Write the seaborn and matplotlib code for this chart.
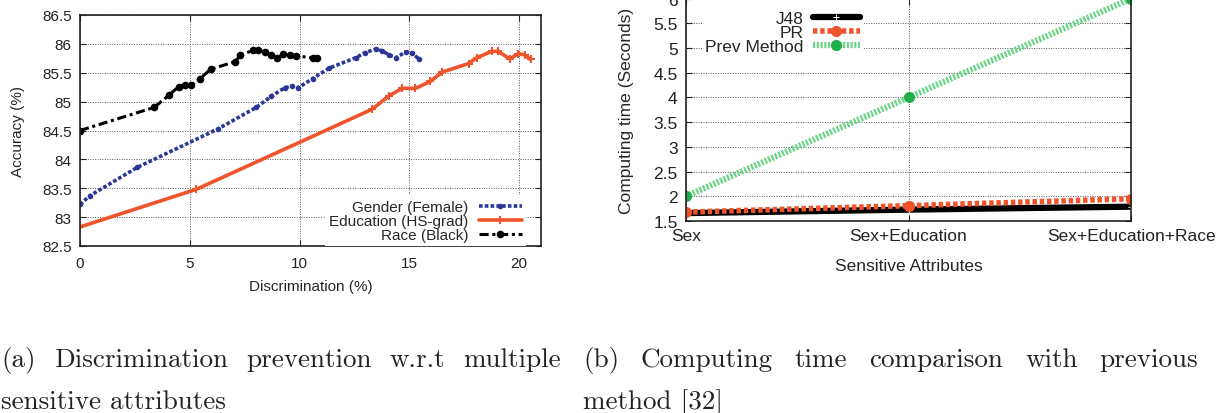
import matplotlib
matplotlib.use("Agg")
import matplotlib.pyplot as plt
import seaborn as sns

# left panel: accuracy vs discrimination
gender_x = [0, 0.45, 2.6, 6.3, 8.03, 8.71, 9.32, 9.64, 9.94, 10.6, 11.35, 12.56, 13.0, 13.47, 13.77, 14.07, 14.4, 14.83, 15.13, 15.43]
gender_y = [83.22, 83.37, 83.86, 84.53, 84.9, 85.09, 85.24, 85.27, 85.24, 85.4, 85.58, 85.76, 85.85, 85.91, 85.88, 85.81, 85.76, 85.86, 85.84, 85.74]

edu_x = [0, 5.29, 13.32, 14.07, 14.68, 15.28, 15.96, 16.49, 17.7, 18.07, 18.75, 19.05, 19.58, 19.96, 20.26, 20.53]
edu_y = [82.83, 83.48, 84.87, 85.1, 85.23, 85.23, 85.35, 85.51, 85.66, 85.76, 85.87, 85.87, 85.74, 85.83, 85.81, 85.73]

race_x = [0, 3.38, 4.05, 4.49, 4.79, 5.05, 5.47, 5.95, 7.05, 7.31, 7.88, 8.1, 8.41, 8.71, 8.99, 9.27, 9.55, 9.85, 10.6, 10.78]
race_y = [84.5, 84.9, 85.11, 85.26, 85.28, 85.28, 85.4, 85.56, 85.69, 85.8, 85.89, 85.89, 85.86, 85.81, 85.76, 85.83, 85.81, 85.79, 85.76, 85.75]

# right panel: computing time
attributes = ["Sex", "Sex+Education", "Sex+Education+Race"]
j48_time = [1.66, 1.73, 1.79]
pr_time = [1.68, 1.81, 1.95]
prev_time = [2.0, 4.0, 6.0]

# captions
caption_a = ["(a) Discrimination prevention w.r.t multiple", "sensitive attributes"]
caption_b = ["(b) Computing time comparison with previous", "method [32]"]

sns.set_style("ticks")
plt.rcParams["font.family"] = ["Liberation Sans", "DejaVu Sans"]

fig = plt.figure(figsize=(12.31, 4.14), dpi=100)
W, H = 1231, 414

def px_axes(x0, x1, y_top, y_bot):
    return fig.add_axes([x0 / W, 1 - y_bot / H, (x1 - x0) / W, (y_bot - y_top) / H])

def style_axes(ax, fs, xpad, ypad):
    for s in ax.spines.values():
        s.set_color("#222222")
        s.set_linewidth(1.2)
    ax.tick_params(direction="in", top=True, right=True, length=4, width=0.8,
                   labelsize=fs, colors="#222222")
    ax.tick_params(axis="x", pad=xpad)
    ax.tick_params(axis="y", pad=ypad)
    ax.grid(True, linestyle=(0, (1, 1.5)), color="#555555", linewidth=0.7)
    ax.set_axisbelow(True)

def white_legend(leg):
    fr = leg.get_frame()
    fr.set_edgecolor("none")
    fr.set_facecolor("white")
    fr.set_alpha(1)
    fr.set_boxstyle("square", pad=0)

# ---- left panel
fs1 = 11
ax1 = px_axes(80, 541, 16, 247)
sns.lineplot(x=gender_x, y=gender_y, ax=ax1, color="#2b3796", linewidth=2.6,
             linestyle=(0, (1, 0.6)), marker="o", markersize=4, markeredgewidth=0,
             label="Gender (Female)")
sns.lineplot(x=edu_x, y=edu_y, ax=ax1, color="#f0542a", linewidth=2.6,
             linestyle="-", marker="P", markersize=6, markeredgewidth=0,
             label="Education (HS-grad)")
sns.lineplot(x=race_x, y=race_y, ax=ax1, color="#000000", linewidth=2.2,
             linestyle=(0, (3, 1.2, 1, 1.2)), marker="o", markersize=5.5, markeredgewidth=0,
             label="Race (Black)")
ax1.set_xlim(0, 21)
ax1.set_ylim(82.5, 86.5)
ax1.set_xticks([0, 5, 10, 15, 20])
ax1.set_yticks([82.5, 83, 83.5, 84, 84.5, 85, 85.5, 86, 86.5])
ax1.set_yticklabels(["82.5", "83", "83.5", "84", "84.5", "85", "85.5", "86", "86.5"])
ax1.set_xlabel("Discrimination (%)", fontsize=fs1, labelpad=7)
ax1.set_ylabel("Accuracy (%)", fontsize=fs1, labelpad=12)
style_axes(ax1, fs1, 7, 6)
leg1 = ax1.legend(loc="lower right", bbox_to_anchor=(0.985, -0.035), frameon=True,
                  markerfirst=False, handlelength=2.8, handletextpad=0.7,
                  labelspacing=0.0, borderpad=0.3, fontsize=fs1)
white_legend(leg1)

# ---- right panel
fs2 = 12.5
ax2 = px_axes(686, 1131, -0.4, 222)
pos = list(range(len(attributes)))
sns.lineplot(x=pos, y=j48_time, ax=ax2, color="#000000", linewidth=4.5,
             marker="+", markersize=5, label="J48")
sns.lineplot(x=pos, y=pr_time, ax=ax2, color="#f0542a", linewidth=4,
             linestyle=(0, (0.8, 0.5)), marker="o", markersize=8, markeredgewidth=0,
             label="PR")
sns.lineplot(x=pos, y=prev_time, ax=ax2, color="#6fd48a", linewidth=4.5,
             linestyle=(0, (0.35, 0.25)), marker="o", markersize=8,
             markerfacecolor="#1fae48", markeredgewidth=0, label="Prev Method")
ax2.set_xlim(0, 2)
ax2.set_ylim(1.5, 6)
ax2.set_xticks(pos)
ax2.set_xticklabels(attributes)
ax2.set_yticks([1.5, 2, 2.5, 3, 3.5, 4, 4.5, 5, 5.5, 6])
ax2.set_yticklabels(["1.5", "2", "2.5", "3", "3.5", "4", "4.5", "5", "5.5", "6"])
ax2.set_xlabel("Sensitive Attributes", fontsize=fs2, labelpad=11)
ax2.set_ylabel("Computing time (Seconds)", fontsize=fs2, labelpad=14)
style_axes(ax2, fs2, 5, 6)
leg2 = ax2.legend(loc="upper right", bbox_to_anchor=(0.418, 1.0), frameon=True,
                  markerfirst=False, handlelength=2.7, handletextpad=0.55,
                  labelspacing=-0.05, borderpad=0.2, fontsize=fs2)
white_legend(leg2)

# ---- captions: first line justified over the column, second line left aligned
cap_kw = dict(family="cmr10", fontsize=19.5, color="#222222", va="baseline", ha="left")
renderer = fig.canvas.get_renderer()

def justified_line(text, x0, x1, y):
    words = text.split()
    objs = [fig.text(0, 1 - y / H, w, **cap_kw) for w in words]
    widths = [o.get_window_extent(renderer).width for o in objs]
    gap = (x1 - x0 - sum(widths)) / (len(words) - 1)
    x = x0
    for o, w in zip(objs, widths):
        o.set_x(x / W)
        x += w + gap

justified_line(caption_a[0], 1, 561, 367)
justified_line(caption_b[0], 583, 1198, 367)
fig.text(1 / W, 1 - 409 / H, caption_a[1], **cap_kw)
fig.text(583 / W, 1 - 409 / H, caption_b[1], **cap_kw)

fig.savefig("out.png", dpi=100)
